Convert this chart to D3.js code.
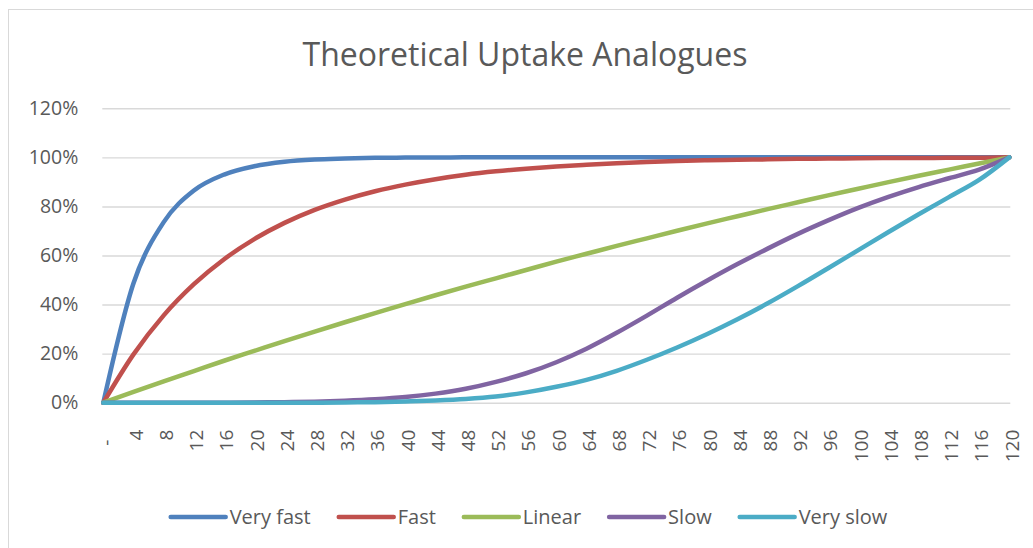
<!DOCTYPE html>
<html>
<head>
<meta charset="utf-8">
<script src="https://cdn.jsdelivr.net/npm/d3@7"></script>
<style>
  html, body { margin: 0; padding: 0; background: #fff; }
  svg { display: block; font-family: "Open Sans", sans-serif; }
</style>
</head>
<body>
<svg id="chart" width="1033" height="548"></svg>
<script>
// Time categories (every 4 units, 0 shown as a dash)
const categories = ["-", "4", "8", "12", "16", "20", "24", "28", "32", "36", "40",
  "44", "48", "52", "56", "60", "64", "68", "72", "76", "80",
  "84", "88", "92", "96", "100", "104", "108", "112", "116", "120"];

const yTicks = [0, 0.2, 0.4, 0.6, 0.8, 1.0, 1.2];
const yTickLabels = ["0%", "20%", "40%", "60%", "80%", "100%", "120%"];

const seriesNames = ["Very fast", "Fast", "Linear", "Slow", "Very slow"];

// Fraction taken up at each category
const veryFast = [0, 0.487, 0.736, 0.865, 0.930, 0.964, 0.982, 0.991, 0.995, 0.998, 0.999,
  0.999, 1, 1, 1, 1, 1, 1, 1, 1, 1,
  1, 1, 1, 1, 1, 1, 1, 1, 1, 1];
const fast = [0, 0.197, 0.356, 0.483, 0.585, 0.667, 0.733, 0.786, 0.828, 0.862, 0.889,
  0.911, 0.929, 0.943, 0.954, 0.963, 0.970, 0.976, 0.981, 0.985, 0.988,
  0.990, 0.992, 0.994, 0.995, 0.996, 0.997, 0.997, 0.998, 0.998, 1];
const linear = [0, 0.044, 0.087, 0.129, 0.171, 0.211, 0.251, 0.290, 0.328, 0.365, 0.402,
  0.438, 0.473, 0.507, 0.541, 0.575, 0.607, 0.639, 0.670, 0.701, 0.731,
  0.760, 0.789, 0.817, 0.845, 0.872, 0.899, 0.925, 0.950, 0.975, 1];
const slow = [0, 0, 0, 0, 0, 0.001, 0.002, 0.004, 0.008, 0.014, 0.023,
  0.037, 0.057, 0.085, 0.120, 0.165, 0.220, 0.285, 0.355, 0.428, 0.498,
  0.565, 0.628, 0.688, 0.743, 0.794, 0.839, 0.879, 0.915, 0.950, 1];
const verySlow = [0, 0, 0, 0, 0, 0, 0, 0, 0.001, 0.002, 0.005,
  0.009, 0.015, 0.025, 0.042, 0.065, 0.093, 0.130, 0.175, 0.225, 0.280,
  0.340, 0.405, 0.475, 0.548, 0.622, 0.696, 0.768, 0.838, 0.908, 1];

const seriesValues = [veryFast, fast, linear, slow, verySlow];
const seriesColors = ["#4F81BD", "#C0504D", "#9BBB59", "#8064A2", "#4BACC6"];

const svg = d3.select("#chart");
const textColor = "#595959";
const gridColor = "#d9d9d9";

// chart frame
svg.append("rect")
  .attr("x", 8.5).attr("y", 9.5)
  .attr("width", 1200).attr("height", 700)
  .attr("fill", "#fff").attr("stroke", gridColor).attr("stroke-width", 1);

// title
svg.append("text")
  .attr("x", 525).attr("y", 66)
  .attr("text-anchor", "middle")
  .attr("fill", textColor)
  .style("font-size", "32px")
  .text("Theoretical Uptake Analogues");

const plot = { left: 103.3, right: 1009.3, top: 108.3, bottom: 402.7 };

const x = d3.scalePoint().domain(categories).range([plot.left, plot.right]);
const y = d3.scaleLinear().domain([0, 1.2]).range([plot.bottom, plot.top]);

// horizontal gridlines with percentage labels
const yAxis = d3.axisLeft(y)
  .tickValues(yTicks)
  .tickSize(-(plot.right - plot.left + 2))
  .tickPadding(24)
  .tickFormat((d, i) => yTickLabels[i]);

const gy = svg.append("g")
  .attr("transform", `translate(${plot.left - 1},0)`)
  .call(yAxis);
gy.select(".domain").remove();
gy.selectAll(".tick line").attr("stroke", gridColor).attr("stroke-width", 1.4);
gy.selectAll(".tick text")
  .attr("fill", textColor)
  .style("font-size", "19.5px")
  .style("font-family", "'Open Sans', sans-serif");

// category axis labels, rotated
const xAxis = d3.axisBottom(x).tickSize(0).tickPadding(0)
  .tickFormat(d => d === "-" ? "-\u00a0\u00a0" : d);
const gx = svg.append("g")
  .attr("transform", `translate(0,${plot.bottom})`)
  .call(xAxis);
gx.select(".domain").remove();
gx.selectAll(".tick text")
  .attr("fill", textColor)
  .style("font-size", "19px")
  .style("font-family", "'Open Sans', sans-serif")
  .attr("text-anchor", "end")
  .attr("transform", "translate(2,27) rotate(-90)")
  .attr("x", 0).attr("y", 0).attr("dy", "0.36em");

// series lines
const line = d3.line()
  .x((d, i) => x(categories[i]))
  .y(d => y(d))
  .curve(d3.curveMonotoneX);

svg.append("g").selectAll("path")
  .data(seriesValues)
  .join("path")
  .attr("d", d => line(d))
  .attr("fill", "none")
  .attr("stroke", (d, i) => seriesColors[i])
  .attr("stroke-width", 4.5)
  .attr("stroke-linecap", "round")
  .attr("stroke-linejoin", "round");

// legend
const legend = svg.append("g");
const legendY = 517;
const swatchLen = 55;
const items = legend.selectAll("g").data(seriesNames).join("g");
items.append("line")
  .attr("x1", 0).attr("x2", swatchLen)
  .attr("y1", 0).attr("y2", 0)
  .attr("stroke", (d, i) => seriesColors[i])
  .attr("stroke-width", 4.5)
  .attr("stroke-linecap", "round");
items.append("text")
  .attr("x", swatchLen + 4)
  .attr("y", 0)
  .attr("dy", "0.35em")
  .attr("fill", textColor)
  .style("font-size", "20px")
  .text(d => d);

let cursor = 0;
const offsets = [];
items.each(function () {
  const w = d3.select(this).select("text").node().getComputedTextLength();
  offsets.push(cursor);
  cursor += swatchLen + 4 + w + 28;
});
const totalW = cursor - 28;
const startX = 529 - totalW / 2;
items.attr("transform", (d, i) => `translate(${startX + offsets[i]},${legendY})`);
</script>
</body>
</html>
